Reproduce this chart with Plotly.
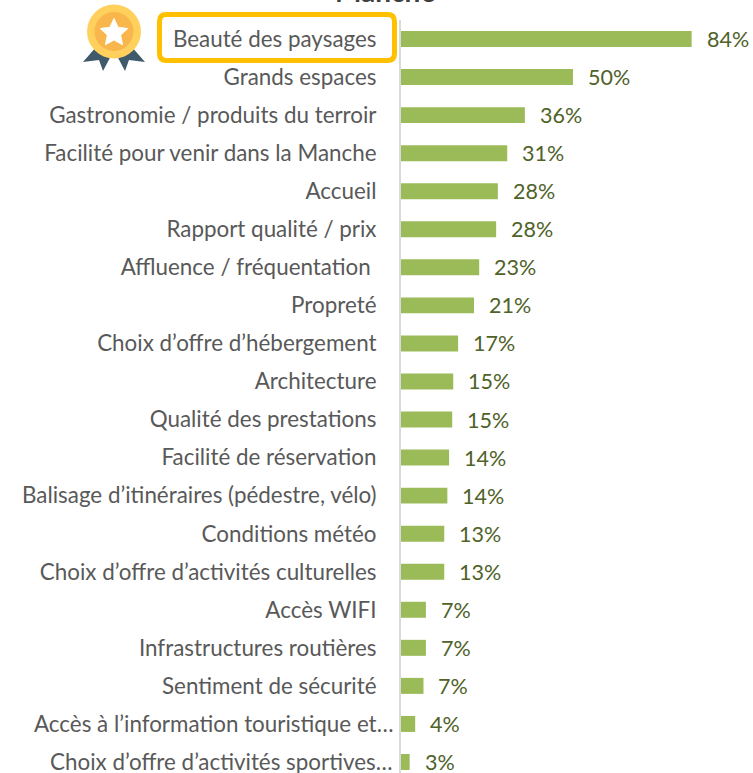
import plotly.graph_objects as go
import math

categories = ["Beauté des paysages", "Grands espaces", "Gastronomie / produits du terroir",
              "Facilité pour venir dans la Manche", "Accueil", "Rapport qualité / prix",
              "Affluence / fréquentation\u00a0", "Propreté", "Choix d’offre d’hébergement",
              "Architecture", "Qualité des prestations", "Facilité de réservation",
              "Balisage d’itinéraires (pédestre, vélo)", "Conditions météo",
              "Choix d’offre d’activités culturelles", "Accès WIFI", "Infrastructures routières",
              "Sentiment de sécurité", "Accès à l’information touristique et…",
              "Choix d’offre d’activités sportives…"]
values = [84.0, 49.7, 35.8, 30.7, 28.0, 27.5, 22.6, 21.1, 16.5, 15.1, 14.8, 13.9, 13.4, 12.5, 12.5, 7.2, 7.2, 6.5, 4.1, 2.5]
labels = ["84%", "50%", "36%", "31%", "28%", "28%", "23%", "21%", "17%", "15%", "15%", "14%", "14%", "13%", "13%", "7%", "7%", "7%", "4%", "3%"]
title_text = "Manche"

W, H = 753, 773
L, T = 401, 20
FONT = "Lato"
CAT_FONT = dict(family=FONT, size=22.4, color="#595959")

def px(x):
    return (x - L) / (W - L)

def py(y):
    return 1 - (y - T) / (H - T)

def path(points):
    return "M " + " L ".join(f"{px(x):.5f},{py(y):.5f}" for x, y in points) + " Z"

fig = go.Figure(go.Bar(x=values, y=categories, orientation="h", marker=dict(color="#9BBB59", line_width=0),
                       width=0.42, hoverinfo="skip"))

for c, v, t in zip(categories, values, labels):
    fig.add_annotation(x=v, y=c, text=t, xanchor="left", yanchor="middle", xshift=13, yshift=0, showarrow=False,
                       font=dict(family=FONT, size=21.5, color="#4F6228"))

# the two truncated labels run further right than the others, up to the axis
for c in categories[-2:]:
    fig.add_annotation(xref="paper", x=px(395), y=c, text=c, xanchor="right", yanchor="middle", showarrow=False,
                       font=CAT_FONT)

fig.add_annotation(xref="paper", yref="paper", x=px(385), y=py(-9), text=f"<b>{title_text}</b>", showarrow=False,
                   xanchor="center", yanchor="middle", font=dict(family=FONT, size=28, color="#404040"))

shapes = []
def paper_shape(**kw):
    shapes.append(dict(xref="paper", yref="paper", layer="above", **kw))

# highlight frame
x0, x1, y0, y1, r = 159.5, 394.5, 14.5, 60.5, 7
pts = f"M {px(x0+r):.5f},{py(y0):.5f} L {px(x1-r):.5f},{py(y0):.5f} Q {px(x1):.5f},{py(y0):.5f} {px(x1):.5f},{py(y0+r):.5f} " \
      f"L {px(x1):.5f},{py(y1-r):.5f} Q {px(x1):.5f},{py(y1):.5f} {px(x1-r):.5f},{py(y1):.5f} " \
      f"L {px(x0+r):.5f},{py(y1):.5f} Q {px(x0):.5f},{py(y1):.5f} {px(x0):.5f},{py(y1-r):.5f} " \
      f"L {px(x0):.5f},{py(y0+r):.5f} Q {px(x0):.5f},{py(y0):.5f} {px(x0+r):.5f},{py(y0):.5f} Z"
paper_shape(type="path", path=pts, line=dict(color="#FFC000", width=5), fillcolor="rgba(0,0,0,0)")

# medal
for side in (-1, 1):
    rib = [(114 + side * 17, 46), (114 + side * 31, 62), (114 + side * 15, 60), (114 + side * 11, 71), (114 + side * 2, 54)]
    paper_shape(type="path", path=path(rib), line_width=0, fillcolor="#415A6B")
def circle(cx, cy, r, col):
    paper_shape(type="circle", x0=px(cx - r), x1=px(cx + r), y0=py(cy + r), y1=py(cy - r), line_width=0, fillcolor=col)
circle(114, 31.5, 27, "#FFD15C")
circle(114, 31.5, 19.5, "#F8B64C")
star = []
for i in range(10):
    rr = 14.5 if i % 2 == 0 else 7
    a = -math.pi / 2 + i * math.pi / 5
    star.append((114 + rr * math.cos(a), 33 + rr * math.sin(a)))
paper_shape(type="path", path=path(star), line=dict(color="#FFFFFF", width=1), fillcolor="#FFFFFF")

fig.update_layout(width=W, height=H, margin=dict(l=L, r=0, t=T, b=0, pad=0), paper_bgcolor="white", plot_bgcolor="white",
                  showlegend=False, shapes=shapes,
                  xaxis=dict(range=[0, (W - L) / 3.46], visible=False, fixedrange=True),
                  yaxis=dict(range=[(H - T) / 38.05 - 0.5, -0.5], type="category", categoryorder="array", categoryarray=categories,
                             tickmode="array", tickvals=categories[:-2], ticktext=categories[:-2],
                             showgrid=False, ticks="", showline=True, linecolor="#D9D9D9", linewidth=2, fixedrange=True,
                             automargin=False, ticklabelstandoff=18, tickfont=CAT_FONT))

fig.write_html("out.html", config={"displayModeBar": False},
               post_script="document.body.style.margin='0';document.body.style.overflow='hidden';")
